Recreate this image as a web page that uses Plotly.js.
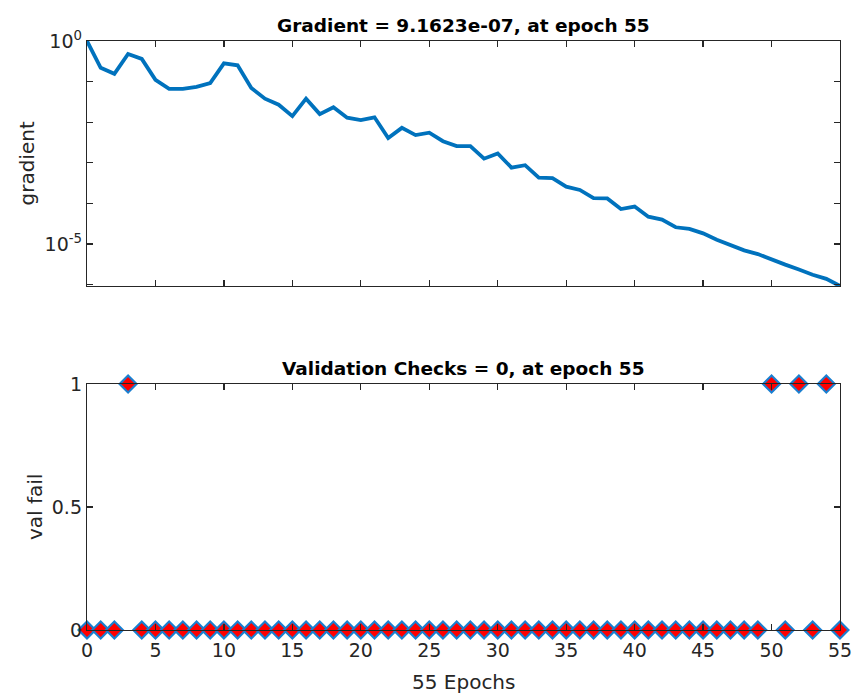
<!DOCTYPE html>
<html>
<head>
<meta charset="utf-8">
<script src="https://cdn.plot.ly/plotly-3.0.1.min.js"></script>
<style>
  html, body { margin: 0; padding: 0; background: #ffffff; }
  #chart { width: 852px; height: 693px; }
</style>
</head>
<body>
<div id="chart"></div>
<script>
// Training record: epochs, gradient magnitude and validation-failure count
const epochs = [];
for (let e = 0; e <= 55; e++) epochs.push(e);

const gradient = [
  1.0, 0.219, 0.155, 0.479, 0.363, 0.110, 0.0661, 0.0661, 0.0741, 0.0912,
  0.282, 0.251, 0.0692, 0.0380, 0.0269, 0.0141, 0.0380, 0.0158, 0.0234, 0.0129,
  0.0112, 0.0132, 0.00407, 0.00724, 0.00479, 0.00550, 0.00339, 0.00257, 0.00257, 0.00126,
  0.00170, 0.000759, 0.000871, 0.000427, 0.000417, 0.000257, 0.000214, 0.000135, 0.000132, 7.24e-5,
  8.32e-5, 4.68e-5, 3.98e-5, 2.57e-5, 2.34e-5, 1.82e-5, 1.26e-5, 9.55e-6, 6.92e-6, 5.62e-6,
  4.07e-6, 3.09e-6, 2.34e-6, 1.74e-6, 1.38e-6, 9.1623e-7
];

const valFail = [
  0, 0, 0, 1, 0, 0, 0, 0, 0, 0,
  0, 0, 0, 0, 0, 0, 0, 0, 0, 0,
  0, 0, 0, 0, 0, 0, 0, 0, 0, 0,
  0, 0, 0, 0, 0, 0, 0, 0, 0, 0,
  0, 0, 0, 0, 0, 0, 0, 0, 0, 0,
  1, 0, 1, 0, 1, 0
];

const xTickVals = [0, 5, 10, 15, 20, 25, 30, 35, 40, 45, 50, 55];
const gradTickVals = [1e-5, 1];
const gradTickText = ['10<sup>-5</sup>', '10<sup>0</sup>'];
const gradDecades = [1e-6, 1e-5, 1e-4, 1e-3, 1e-2, 1e-1, 1];
const valTickVals = [0, 0.5, 1];
const valTickText = ['0', '0.5', '1'];

const lastEpoch = epochs[epochs.length - 1];
const lastGrad = gradient[gradient.length - 1];
const lastVal = valFail[valFail.length - 1];

const axisColor = '#262626';
const font = 'DejaVu Sans, Arial, sans-serif';

const traces = [
  {
    x: epochs, y: gradient, type: 'scatter', mode: 'lines',
    line: { color: '#0072BD', width: 3.8 },
    xaxis: 'x', yaxis: 'y', hoverinfo: 'skip'
  },
  {
    x: epochs, y: valFail, type: 'scatter', mode: 'markers',
    marker: { symbol: 'diamond', size: 13, color: '#ff0000',
              line: { color: '#1a7fd0', width: 2.2 } },
    cliponaxis: false,
    xaxis: 'x2', yaxis: 'y2', hoverinfo: 'skip'
  }
];

const commonAxis = {
  showgrid: false, zeroline: false, showline: true, mirror: 'ticks',
  linecolor: axisColor, linewidth: 1.2, ticks: 'inside', ticklen: 6,
  tickcolor: axisColor, tickwidth: 1.2, ticklabeloverflow: 'allow',
  tickfont: { family: font, size: 19, color: axisColor }
};

const layout = {
  width: 852, height: 693,
  paper_bgcolor: '#ffffff', plot_bgcolor: '#ffffff',
  margin: { l: 87, r: 12, t: 41, b: 63 },
  showlegend: false,
  xaxis: Object.assign({}, commonAxis, {
    domain: [0, 1], range: [0, 55], anchor: 'y',
    tickvals: xTickVals, showticklabels: false
  }),
  yaxis: Object.assign({}, commonAxis, {
    domain: [0.584, 1], type: 'log', anchor: 'x',
    range: [Math.log10(lastGrad), 0],
    tickvals: gradTickVals, ticktext: gradTickText,
    minor: { tickmode: 'array', tickvals: gradDecades, ticks: 'inside',
             ticklen: 6, tickwidth: 1.2, tickcolor: axisColor, showgrid: false }
  }),
  xaxis2: Object.assign({}, commonAxis, {
    domain: [0, 1], range: [0, 55], anchor: 'y2',
    tickvals: xTickVals, ticklabelstandoff: 3
  }),
  yaxis2: Object.assign({}, commonAxis, {
    domain: [0, 0.4177], range: [0, 1], anchor: 'x2',
    tickvals: valTickVals, ticktext: valTickText
  }),
  annotations: [
    { text: '<b>Gradient = ' + lastGrad.toExponential(4).replace('e-', 'e-0') + ', at epoch ' + lastEpoch + '</b>',
      xref: 'paper', yref: 'paper', x: 0.5, y: 1, yshift: 3,
      xanchor: 'center', yanchor: 'bottom', showarrow: false,
      font: { family: font, size: 18.5, color: '#000000' } },
    { text: '<b>Validation Checks = ' + lastVal + ', at epoch ' + lastEpoch + '</b>',
      xref: 'paper', yref: 'paper', x: 0.5, y: 0.4177, yshift: 3,
      xanchor: 'center', yanchor: 'bottom', showarrow: false,
      font: { family: font, size: 18.5, color: '#000000' } },
    { text: 'gradient', textangle: -90,
      xref: 'paper', yref: 'paper', x: 0, xshift: -60, y: 0.792,
      xanchor: 'center', yanchor: 'middle', showarrow: false,
      font: { family: font, size: 20, color: axisColor } },
    { text: 'val fail', textangle: -90,
      xref: 'paper', yref: 'paper', x: 0, xshift: -52, y: 0.2088,
      xanchor: 'center', yanchor: 'middle', showarrow: false,
      font: { family: font, size: 20, color: axisColor } },
    { text: lastEpoch + ' Epochs',
      xref: 'paper', yref: 'paper', x: 0.5, y: 0, yshift: -38,
      xanchor: 'center', yanchor: 'top', showarrow: false,
      font: { family: font, size: 20, color: axisColor } }
  ]
};

Plotly.newPlot('chart', traces, layout, { displayModeBar: false, staticPlot: true });
</script>
</body>
</html>
